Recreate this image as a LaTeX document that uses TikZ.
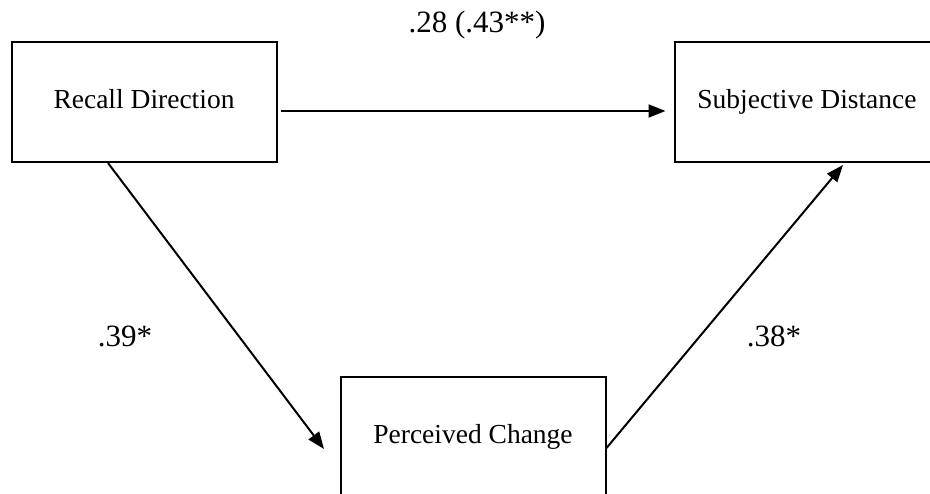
\documentclass[tikz,border=0pt]{standalone}
\usepackage{fontspec}
\setmainfont{Liberation Serif}
\usetikzlibrary{arrows.meta}
\begin{document}
\begin{tikzpicture}[x=1pt,y=1pt,
  varbox/.style={draw, line width=2pt, minimum width=265pt, minimum height=120pt, inner sep=0pt,
    font=\fontsize{27.5}{33}\selectfont, text height=19.25pt, text depth=5.5pt},
  coef/.style={font=\fontsize{31}{37}\selectfont, anchor=base, inner sep=0pt},
  pathline/.style={line width=2pt, -{Triangle[length=17pt,width=13pt]}}]
\useasboundingbox (0,0) rectangle (930,494);
\node[varbox] (rd) at (144,392) {Recall Direction};
\node[varbox] (sd) at (807,392) {Subjective Distance};
\node[varbox] (pc) at (473,57) {Perceived Change};
\draw[pathline] ([xshift=3pt,yshift=-9pt]rd.east) -- ([xshift=-8pt,yshift=-9pt]sd.west);
\draw[pathline] ([xshift=-36pt]rd.south) -- ([xshift=-15.5pt,yshift=-12pt]pc.west);
\draw[pathline] ([yshift=-11pt]pc.east) -- ([xshift=36pt,yshift=-2pt]sd.south);
\node[coef] (l1) at (477,461) {.28 (.43**)};
\node[coef] (l2) at (125,147) {.39*};
\node[coef] (l3) at (774,147) {.38*};
\end{tikzpicture}
\end{document}
